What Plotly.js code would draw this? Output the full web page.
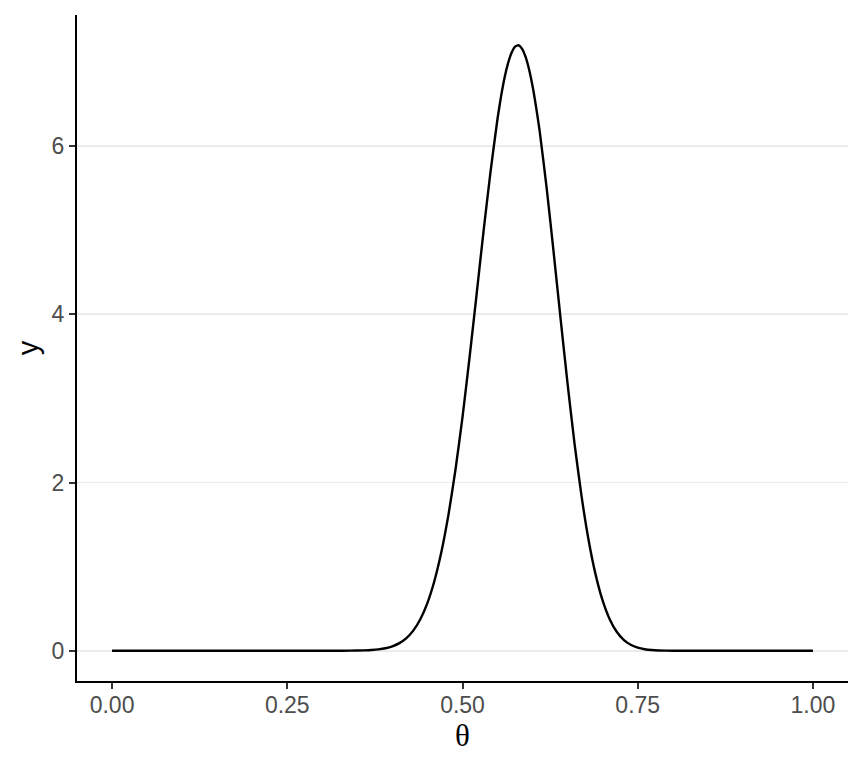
<!DOCTYPE html>
<html>
<head>
<meta charset="utf-8">
<script src="https://cdn.plot.ly/plotly-3.0.1.min.js"></script>
<style>html,body{margin:0;padding:0;background:#fff;}#chart{width:864px;height:768px;}</style>
</head>
<body>
<div id="chart"></div>
<script>
// theta values
const theta = [0.00, 0.05, 0.10, 0.15, 0.20, 0.25, 0.30, 0.32, 0.34, 0.36, 0.37, 0.38, 0.39,
  0.40, 0.41, 0.42, 0.43, 0.44, 0.45, 0.46, 0.47, 0.48, 0.49,
  0.50, 0.51, 0.52, 0.53, 0.54, 0.55, 0.555, 0.56, 0.565, 0.57, 0.575, 0.58, 0.585, 0.59, 0.595,
  0.60, 0.605, 0.61, 0.62, 0.63, 0.64, 0.65, 0.66, 0.67, 0.68, 0.69,
  0.70, 0.71, 0.72, 0.73, 0.74, 0.75, 0.76, 0.77, 0.78, 0.80,
  0.85, 0.90, 0.95, 1.00];
// density values
const density = [0, 0, 0, 0, 0, 0, 0, 0.0002, 0.0009, 0.004, 0.008, 0.0155, 0.029,
  0.052, 0.090, 0.150, 0.242, 0.377, 0.569, 0.832, 1.179, 1.618, 2.153,
  2.779, 3.484, 4.229, 4.988, 5.698, 6.329, 6.592, 6.815, 6.987, 7.110, 7.183, 7.20, 7.158, 7.062, 6.913,
  6.713, 6.465, 6.185, 5.508, 4.739, 3.944, 3.168, 2.452, 1.830, 1.311, 0.902,
  0.595, 0.375, 0.226, 0.1295, 0.0705, 0.0363, 0.0176, 0.008, 0.0034, 0.0005,
  0, 0, 0, 0];
const xTicks = [0, 0.25, 0.5, 0.75, 1];
const xTickLabels = ['0.00', '0.25', '0.50', '0.75', '1.00'];
const yTicks = [0, 2, 4, 6];
const yTickLabels = ['0', '2', '4', '6'];

const trace = {
  x: theta, y: density, type: 'scatter', mode: 'lines',
  line: {color: '#000000', width: 2.4, shape: 'spline', smoothing: 0.5},
  hoverinfo: 'skip'
};

const layout = {
  width: 864, height: 768,
  margin: {l: 77, r: 16, t: 15, b: 87},
  paper_bgcolor: '#ffffff', plot_bgcolor: '#ffffff',
  showlegend: false,
  font: {family: 'Liberation Sans', color: '#4d4d4d', size: 23},
  xaxis: {
    range: [-0.05, 1.05], tickmode: 'array', tickvals: xTicks, ticktext: xTickLabels,
    showgrid: false, zeroline: false,
    showline: true, linecolor: '#000000', linewidth: 2.2,
    ticks: 'outside', ticklen: 6, tickwidth: 2, tickcolor: '#333333',
    ticklabelstandoff: -4,
    tickfont: {family: 'Liberation Sans', size: 23, color: '#4d4d4d'},
    title: {text: 'θ', font: {family: 'Liberation Serif', size: 31, color: '#000000'}, standoff: 4}
  },
  yaxis: {
    range: [-0.36, 7.56], tickmode: 'array', tickvals: yTicks, ticktext: yTickLabels,
    showgrid: true, gridcolor: '#ebebeb', gridwidth: 1.8,
    zeroline: false,
    showline: true, linecolor: '#000000', linewidth: 2.2,
    ticks: 'outside', ticklen: 6, tickwidth: 2, tickcolor: '#333333',
    tickfont: {family: 'Liberation Sans', size: 23, color: '#4d4d4d'},
    title: {text: 'y', font: {family: 'Liberation Sans', size: 29, color: '#000000'}, standoff: 4}
  }
};

Plotly.newPlot('chart', [trace], layout, {displayModeBar: false, staticPlot: true});
</script>
</body>
</html>
